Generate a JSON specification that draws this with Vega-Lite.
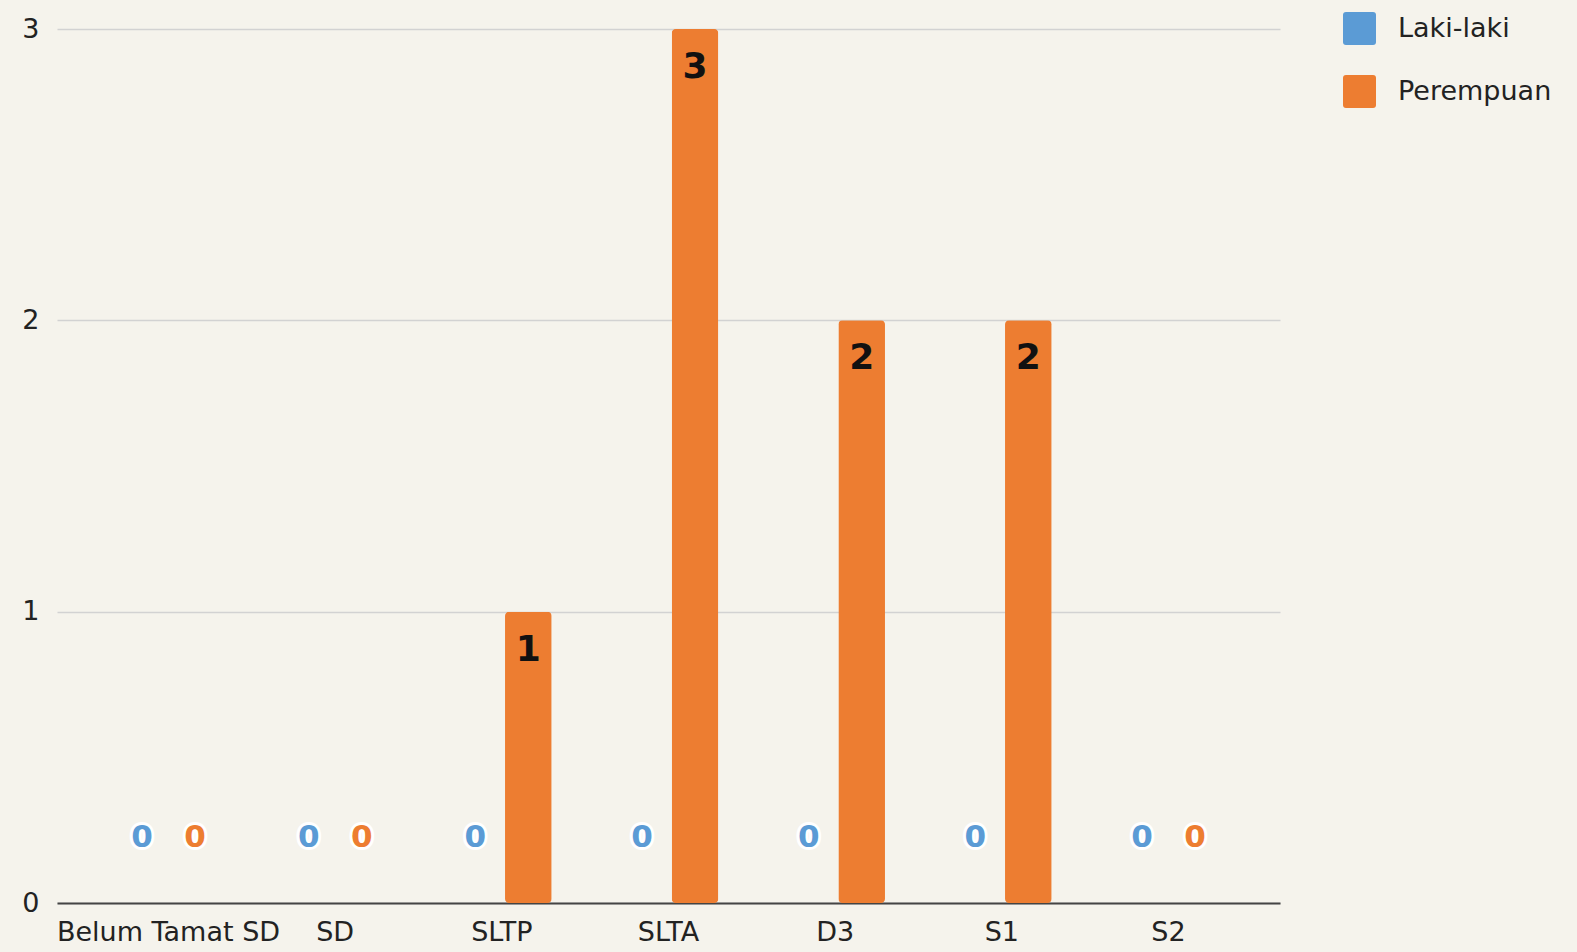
{
  "$schema": "https://vega.github.io/schema/vega-lite/v6.json",
  "width": 1223,
  "height": 874,
  "autosize": {"type": "none"},
  "padding": {"left": 57, "top": 29, "right": 297, "bottom": 49},
  "background": "#f5f3ec",
  "config": {
    "view": {"stroke": null},
    "font": "DejaVu Sans",
    "axis": {"labelFont": "DejaVu Sans", "labelColor": "#222222", "labelFontSize": 27},
    "legend": {"labelFont": "DejaVu Sans"}
  },
  "data": {
    "values": [
      {"kategori": "Belum Tamat SD", "jenis": "Laki-laki", "jumlah": 0},
      {"kategori": "Belum Tamat SD", "jenis": "Perempuan", "jumlah": 0},
      {"kategori": "SD", "jenis": "Laki-laki", "jumlah": 0},
      {"kategori": "SD", "jenis": "Perempuan", "jumlah": 0},
      {"kategori": "SLTP", "jenis": "Laki-laki", "jumlah": 0},
      {"kategori": "SLTP", "jenis": "Perempuan", "jumlah": 1},
      {"kategori": "SLTA", "jenis": "Laki-laki", "jumlah": 0},
      {"kategori": "SLTA", "jenis": "Perempuan", "jumlah": 3},
      {"kategori": "D3", "jenis": "Laki-laki", "jumlah": 0},
      {"kategori": "D3", "jenis": "Perempuan", "jumlah": 2},
      {"kategori": "S1", "jenis": "Laki-laki", "jumlah": 0},
      {"kategori": "S1", "jenis": "Perempuan", "jumlah": 2},
      {"kategori": "S2", "jenis": "Laki-laki", "jumlah": 0},
      {"kategori": "S2", "jenis": "Perempuan", "jumlah": 0}
    ]
  },
  "encoding": {
    "x": {
      "field": "kategori",
      "type": "nominal",
      "sort": ["Belum Tamat SD", "SD", "SLTP", "SLTA", "D3", "S1", "S2"],
      "scale": {"paddingInner": 0.364, "paddingOuter": 0.351},
      "axis": {
        "title": null,
        "labelAngle": 0,
        "labelLimit": 0,
        "labelOverlap": false,
        "ticks": false,
        "domain": true,
        "domainColor": "#444444",
        "domainWidth": 2,
        "labelPadding": 16,
        "grid": false
      }
    },
    "xOffset": {
      "field": "jenis",
      "type": "nominal",
      "sort": ["Laki-laki", "Perempuan"],
      "scale": {"paddingInner": 0.12, "paddingOuter": 0.06}
    },
    "y": {
      "field": "jumlah",
      "type": "quantitative",
      "scale": {"domain": [0, 3], "nice": false},
      "axis": {
        "title": null,
        "values": [0, 1, 2, 3],
        "format": "d",
        "domain": false,
        "ticks": false,
        "grid": true,
        "gridColor": "#d2d2d2",
        "gridWidth": 1.5,
        "labelPadding": 18
      }
    }
  },
  "layer": [
    {
      "mark": {"type": "bar", "cornerRadius": 4},
      "encoding": {
        "color": {
          "field": "jenis",
          "type": "nominal",
          "scale": {"domain": ["Laki-laki", "Perempuan"], "range": ["#5b9bd5", "#ed7d31"]},
          "legend": {
            "title": null,
            "orient": "none",
            "legendX": 1286,
            "legendY": -17,
            "direction": "vertical",
            "symbolType": "M-0.82,-1 L0.82,-1 Q1,-1 1,-0.82 L1,0.82 Q1,1 0.82,1 L-0.82,1 Q-1,1 -1,0.82 L-1,-0.82 Q-1,-1 -0.82,-1 Z",
            "symbolSize": 1089,
            "symbolStrokeWidth": 0,
            "symbolOpacity": 1,
            "labelFontSize": 27,
            "labelColor": "#222222",
            "labelOffset": 22,
            "rowPadding": 30,
            "padding": 0
          }
        }
      }
    },
    {
      "transform": [{"filter": "datum.jumlah == 0"}],
      "mark": {
        "type": "text",
        "dy": -65,
        "baseline": "middle",
        "align": "center",
        "fontSize": 31,
        "fontWeight": "bold",
        "fill": "white",
        "stroke": "white",
        "strokeWidth": 6,
        "strokeJoin": "round"
      },
      "encoding": {"text": {"field": "jumlah", "type": "quantitative"}}
    },
    {
      "transform": [{"filter": "datum.jumlah == 0"}],
      "mark": {
        "type": "text",
        "dy": -65,
        "baseline": "middle",
        "align": "center",
        "fontSize": 31,
        "fontWeight": "bold"
      },
      "encoding": {
        "text": {"field": "jumlah", "type": "quantitative"},
        "color": {"field": "jenis", "type": "nominal"}
      }
    },
    {
      "transform": [{"filter": "datum.jumlah > 0"}],
      "mark": {
        "type": "text",
        "dy": 38,
        "baseline": "middle",
        "align": "center",
        "fontSize": 36,
        "fontWeight": "bold",
        "color": "#111111"
      },
      "encoding": {"text": {"field": "jumlah", "type": "quantitative"}}
    }
  ]
}
